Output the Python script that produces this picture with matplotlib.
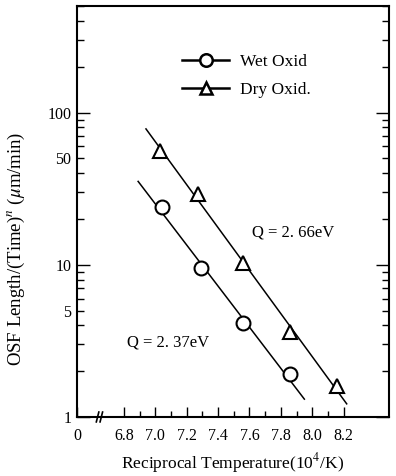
import numpy as np
import matplotlib
matplotlib.use("Agg")
import matplotlib.pyplot as plt
from matplotlib.lines import Line2D
from matplotlib.ticker import FixedLocator, LogLocator, FuncFormatter

# data
wet_x = [7.04, 7.29, 7.56, 7.86]
wet_y = [24.0, 9.5, 4.17, 1.92]
dry_x = [7.03, 7.27, 7.56, 7.86, 8.16]
dry_y = [55.6, 29.3, 10.2, 3.64, 1.60]

# fitted lines (end points as drawn)
wet_fit_x = [6.89, 7.95]
wet_fit_y = [35.3, 1.31]
dry_fit_x = [6.94, 8.22]
dry_fit_y = [78.1, 1.22]

x_ticks = [6.5, 6.8, 7.0, 7.2, 7.4, 7.6, 7.8, 8.0, 8.2]
x_tick_labels = ["0", "6.8", "7.0", "7.2", "7.4", "7.6", "7.8", "8.0", "8.2"]
x_minor = [6.9, 7.1, 7.3, 7.5, 7.7, 7.9, 8.1]
y_labelled = [5, 50]

plt.rcParams["font.family"] = ["Liberation Serif", "DejaVu Serif"]
plt.rcParams["mathtext.fontset"] = "stix"

fig = plt.figure(figsize=(3.96, 4.76), dpi=100)
ax = fig.add_axes([0.1944, 0.124, 0.788, 0.863])

ax.plot(wet_fit_x, wet_fit_y, color="black", lw=1.1, zorder=2)
ax.plot(dry_fit_x, dry_fit_y, color="black", lw=1.1, zorder=2)
ax.plot(wet_x, wet_y, ls="none", marker="o", ms=10, mfc="white", mec="black",
        mew=1.5, zorder=3)
ax.plot(dry_x, dry_y, ls="none", marker="^", ms=9.5, mfc="white", mec="black",
        mew=1.5, zorder=3)

ax.set_yscale("log")
ax.set_xlim(6.5, 8.49)
ax.set_ylim(1, 500)

ax.xaxis.set_major_locator(FixedLocator(x_ticks))
ax.set_xticklabels(x_tick_labels)
ax.xaxis.set_minor_locator(FixedLocator(x_minor))

ax.yaxis.set_major_locator(FixedLocator([1, 10, 100]))
ax.yaxis.set_minor_locator(LogLocator(base=10, subs=np.arange(2, 10)))
ax.yaxis.set_major_formatter(FuncFormatter(lambda v, p: "%d" % v))
ax.yaxis.set_minor_formatter(FuncFormatter(lambda v, p: "%d" % round(v) if round(v) in y_labelled else ""))

ax.tick_params(axis="both", which="both", direction="in", width=1.0, labelsize=11.5)
ax.tick_params(axis="x", which="major", length=7, pad=8, top=False)
ax.tick_params(axis="x", which="minor", length=4, top=False)
ax.tick_params(axis="y", which="major", length=9.5, pad=4, right=True)
ax.tick_params(axis="y", which="minor", length=5, pad=4, right=True)

for s in ax.spines.values():
    s.set_linewidth(1.5)

# axis break mark on the x axis
for dx in (0.0, 0.012):
    ax.plot([0.062 + dx, 0.070 + dx], [-0.012, 0.012], transform=ax.transAxes,
            color="black", lw=1.2, clip_on=False, zorder=5)

ax.set_xlabel("Reciprocal Temperature(10$^4$/K)", fontsize=12.5, labelpad=5)
ax.set_ylabel("OSF Length/(Time)$^n$ ($\\mu$m/min)", fontsize=13.5)
ax.yaxis.set_label_coords(-0.16, 0.41)

ax.text(0.561, 0.450, "Q = 2. 66eV", transform=ax.transAxes, fontsize=12,
        va="center", ha="left")
ax.text(0.160, 0.182, "Q = 2. 37eV", transform=ax.transAxes, fontsize=12,
        va="center", ha="left")

handles = [
    Line2D([], [], color="black", lw=1.8, marker="o", ms=9, mfc="white", mec="black", mew=1.8),
    Line2D([], [], color="black", lw=1.8, marker="^", ms=9, mfc="white", mec="black", mew=1.8),
]
ax.legend(handles, ["Wet Oxid", "Dry Oxid."], loc="upper left",
          bbox_to_anchor=(0.31, 0.905), frameon=False, fontsize=12.5,
          handlelength=2.7, handletextpad=0.6, labelspacing=0.7, borderpad=0)

fig.savefig("out.png", dpi=100)
